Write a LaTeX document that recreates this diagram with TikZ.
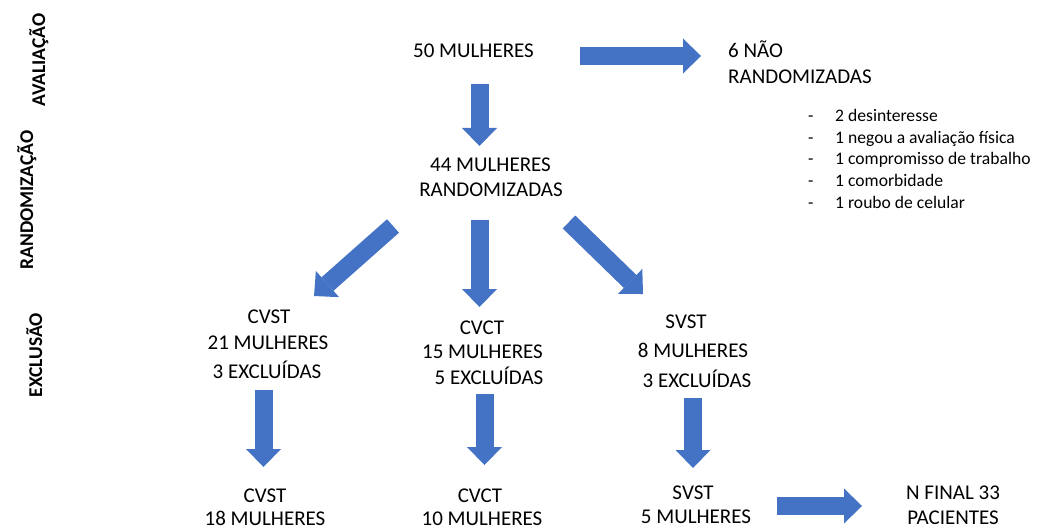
\documentclass[tikz,border=0pt]{standalone}
\usepackage{fontspec}
\setmainfont{Carlito}
\usetikzlibrary{arrows.meta}
\definecolor{arrowblue}{RGB}{68,114,196}
\begin{document}
\begin{tikzpicture}[x=1pt,y=-1pt,
  txt/.style={anchor=base,inner sep=0pt,font=\fontsize{21}{25}\selectfont},
  txtl/.style={anchor=base west,inner sep=0pt,font=\fontsize{21}{25}\selectfont},
  lst/.style={anchor=base west,inner sep=0pt,font=\fontsize{17.6}{21}\selectfont},
  side/.style={anchor=base,inner sep=0pt,rotate=90,font=\fontsize{19.5}{22}\bfseries\selectfont},
  barrow/.style={draw=arrowblue,line width=18pt,line cap=butt,
    -{Triangle[length=18pt,width=35pt,line width=0pt]}},
]
\useasboundingbox (0,0) rectangle (1048,529);
\fill[white] (0,0) rectangle (1048,529);

% side labels
\node[side] (sa) at (45,60) {AVALIAÇÃO};
\node[side] (sr) at (33,200) {RANDOMIZAÇÃO};
\node[side] (se) at (42,355) {EXCLUSÃO};

% texts
\node[txt] (n50) at (473.5,58) {50 MULHERES};
\node[txtl] (n6a) at (728,58) {6 NÃO};
\node[txtl] (n6b) at (728,84) {RANDOMIZADAS};
\node[lst] (d1) at (808,122) {-};
\node[lst] (d2) at (808,143.5) {-};
\node[lst] (d3) at (808,165) {-};
\node[lst] (d4) at (808,186.5) {-};
\node[lst] (d5) at (808,208) {-};
\node[lst] (l1) at (835,122) {2 desinteresse};
\node[lst] (l2) at (835,143.5) {1 negou a avaliação física};
\node[lst] (l3) at (835,165) {1 compromisso de trabalho};
\node[lst] (l4) at (835,186.5) {1 comorbidade};
\node[lst] (l5) at (835,208) {1 roubo de celular};
\node[txt] (n44a) at (490.5,172) {44 MULHERES};
\node[txt] (n44b) at (491,197) {RANDOMIZADAS};

\node[txt] (c1a) at (269,323) {CVST};
\node[txt] (c1b) at (268,349) {21 MULHERES};
\node[txt] (c1c) at (267,378) {3 EXCLUÍDAS};
\node[txt] (c2a) at (482,334) {CVCT};
\node[txt] (c2b) at (482.5,358) {15 MULHERES};
\node[txt] (c2c) at (489,384) {5 EXCLUÍDAS};
\node[txt] (c3a) at (686,328) {SVST};
\node[txt] (c3b) at (693,357) {8 MULHERES};
\node[txt] (c3c) at (697,387) {3 EXCLUÍDAS};

\node[txt] (f1a) at (265,502) {CVST};
\node[txt] (f1b) at (265,525) {18 MULHERES};
\node[txt] (f2a) at (480,502) {CVCT};
\node[txt] (f2b) at (482,525) {10 MULHERES};
\node[txt] (f3a) at (693,499) {SVST};
\node[txt] (f3b) at (696,523) {5 MULHERES};
\node[txt] (fna) at (953,499) {N FINAL 33};
\node[txt] (fnb) at (953,524) {PACIENTES};

% arrow end points
\coordinate (a1s) at (580,56);   \coordinate (a1e) at (701,56);
\coordinate (a2s) at (479.5,84); \coordinate (a2e) at (479.5,146);
\coordinate (a3s) at (393,226);  \coordinate (a3e) at (314,296);
\coordinate (a4s) at (479.5,220);\coordinate (a4e) at (479.5,307);
\coordinate (a5s) at (569,222);  \coordinate (a5e) at (643,294);
\coordinate (a6s) at (263.5,390);\coordinate (a6e) at (263.5,467);
\coordinate (a7s) at (484.5,394);\coordinate (a7e) at (484.5,465);
\coordinate (a8s) at (693,398);  \coordinate (a8e) at (693,468);
\coordinate (a9s) at (777,506);  \coordinate (a9e) at (862,506);

\draw[barrow] (a1s) -- (a1e);
\draw[barrow] (a2s) -- (a2e);
\draw[barrow] (a3s) -- (a3e);
\draw[barrow] (a4s) -- (a4e);
\draw[barrow] (a5s) -- (a5e);
\draw[barrow] (a6s) -- (a6e);
\draw[barrow] (a7s) -- (a7e);
\draw[barrow] (a8s) -- (a8e);
\draw[barrow] (a9s) -- (a9e);
\end{tikzpicture}
\end{document}
